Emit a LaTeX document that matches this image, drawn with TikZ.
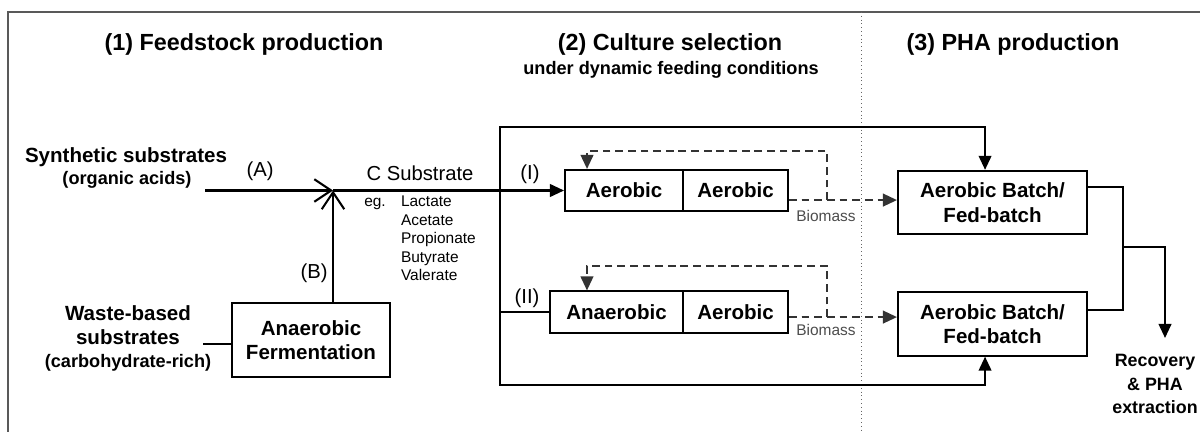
\documentclass[tikz,border=0pt]{standalone}
\usepackage{fontspec}
\setmainfont{Liberation Sans}
\usetikzlibrary{arrows.meta}
\begin{document}
\begin{tikzpicture}[x=0.025cm, y=0.025cm, line width=1.45pt]
\tikzstyle{every node}+=[inner sep=0pt]
\tikzstyle{ttl}=[font=\fontsize{16.6}{20}\selectfont\bfseries]
\tikzstyle{lbl}=[font=\fontsize{14.6}{17.5}\selectfont\bfseries]
\tikzstyle{sub}=[font=\fontsize{12.9}{15.5}\selectfont\bfseries]
\tikzstyle{tag}=[font=\fontsize{14.4}{17}\selectfont]
\tikzstyle{tiny}=[font=\fontsize{11}{13.2}\selectfont]
\tikzstyle{box}=[draw, lbl, align=center, minimum height=29.2pt]
\tikzstyle{phabox}=[draw, lbl, align=center, minimum width=134.4pt, minimum height=45pt]
\tikzstyle{fillarr}=[-{Triangle[length=10pt,width=9pt]}]
\tikzstyle{openarr}=[-{Straight Barb[length=12pt,width=16pt]}]
\tikzstyle{dashline}=[dash pattern=on 5.5pt off 3.5pt, black!80]
\useasboundingbox (0,0) rectangle (1200,-432);
% frame and section divider
\draw [black!65] (8,-432) -- (8,-12) -- (1200,-12);
\draw [black!60, line width=0.7pt, dotted] (861,-12) -- (861,-432);
% section titles
\node [ttl] (t1) at (244,-44) {(1) Feedstock production};
\node [ttl] (t2) at (670,-44) {(2) Culture selection};
\node [sub] (t2b) at (671,-70) {under dynamic feeding conditions};
\node [ttl] (t3) at (1013,-44) {(3) PHA production};
% feedstock
\node [lbl] (synth) at (126,-157) {Synthetic substrates};
\node [sub] (synthb) at (127,-180) {(organic acids)};
\node [lbl, align=center] (waste) at (128,-325) {Waste-based\\substrates};
\node [sub] (wasteb) at (128,-363) {(carbohydrate-rich)};
\node [box, minimum width=112.4pt, minimum height=52.6pt] (ferm) at (311,-340) {Anaerobic\\Fermentation};
\coordinate (a0) at (205,-190.5);
\coordinate (j) at (333,-190.5);
\coordinate (w0) at (203,-344);
\draw [openarr] (a0) -- (j);
\draw [openarr] (j |- ferm.north) -- (j);
\draw (w0) -- (w0 -| ferm.west);
\node [tag] (la) at (260,-171) {(A)};
\node [tag] (lb) at (314,-273) {(B)};
\node [tag] (csub) at (420,-173) {C Substrate};
\node [tiny] (eg) at (375,-204) {eg.};
\node [tiny, anchor=north west, align=left] (acids) at (400,-195) {Lactate\\Acetate\\Propionate\\Butyrate\\Valerate};
% culture selection
\node [box, minimum width=83.9pt] (r1a) at (624,-190.5) {Aerobic};
\node [box, minimum width=74.7pt] (r1b) at (735.5,-190.5) {Aerobic};
\node [box, minimum width=94.6pt] (r2a) at (616.5,-312) {Anaerobic};
\node [box, minimum width=74.7pt] (r2b) at (735.5,-312) {Aerobic};
\node [tag] (l1) at (530,-174) {(I)};
\node [tag] (l2) at (527,-298) {(II)};
\coordinate (split) at (500,-190.5);
\coordinate (topL) at (500,-127);
\coordinate (botL) at (500,-385);
\draw [fillarr] (j) -- (r1a.west);
\draw (botL |- r2a.west) -- (r2a.west);
% PHA production
\node [phabox] (pha1) at (992.5,-202.5) {Aerobic Batch/\\Fed-batch};
\node [phabox] (pha2) at (992.5,-324) {Aerobic Batch/\\Fed-batch};
\draw [fillarr] (split) -- (topL) -| ([xshift=-5.3pt]pha1.north);
\draw [fillarr] (split) -- (botL) -| ([xshift=-5.3pt]pha2.south);
% biomass and recycle
\coordinate (b1) at ([yshift=-6.8pt]r1b.east);
\coordinate (b2) at ([yshift=-3.6pt]r2b.east);
\draw [dashline, fillarr] (b1) -| (827,-151) -| ([xshift=-26.3pt]r1a.north);
\draw [dashline, fillarr] (b2) -| (827,-266) -| ([xshift=-21pt]r2a.north);
\draw [dashline, fillarr] (b1) -- (b1 -| pha1.west);
\draw [dashline, fillarr] (b2) -- (b2 -| pha2.west);
\node [tiny, black!70] (bm1) at (826,-216) {Biomass};
\node [tiny, black!70] (bm2) at (826,-330) {Biomass};
% recovery
\coordinate (o1) at ([yshift=11pt]pha1.east);
\coordinate (o2) at ([yshift=10pt]pha2.east);
\coordinate (mrg) at (1123,-247);
\coordinate (recin) at (1165,-338);
\draw (o1) -| (mrg) |- (o2);
\draw [fillarr] (mrg) -| (recin);
\node [sub, align=center, font=\fontsize{12.7}{16.7}\selectfont\bfseries] (rec) at (1155,-384) {Recovery\\\& PHA\\extraction};
\end{tikzpicture}
\end{document}
